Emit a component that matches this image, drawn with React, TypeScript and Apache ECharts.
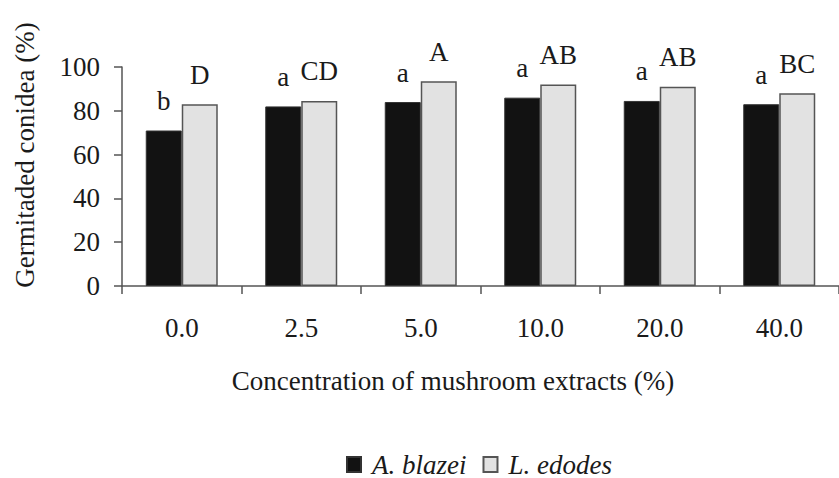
import React, { useEffect, useRef } from "react";
import * as echarts from "echarts";

const categories = ["0.0", "2.5", "5.0", "10.0", "20.0", "40.0"];
const blazeiValues = [71, 82, 84, 86, 84.5, 83];
const edodesValues = [83, 84.5, 93.5, 92, 91, 88];
const blazeiLetters = ["b", "a", "a", "a", "a", "a"];
const edodesLetters = ["D", "CD", "A", "AB", "AB", "BC"];
const yTicks = { min: 0, max: 100, interval: 20 };
const seriesNames = ["A. blazei", "L. edodes"];
const xTitle = "Concentration of mushroom extracts (%)";
const yTitle = "Germitaded conidea (%)";

const FONT = "Liberation Serif";
const TXT = "#1a1a1a";
const FS = 27;

export default function App() {
  const ref = useRef<HTMLDivElement>(null);
  useEffect(() => {
    document.body.style.margin = "0";
    const chart = echarts.init(ref.current!, null, { renderer: "svg" });
    const labelStyle = (letters: string[]) => ({
      show: true,
      position: "top",
      distance: 16,
      fontFamily: FONT,
      fontSize: FS,
      color: TXT,
      formatter: (p: any) => letters[p.dataIndex],
    });
    chart.setOption({
      animation: false,
      backgroundColor: "#ffffff",
      grid: { left: 122, top: 67, width: 726, height: 219 },
      legend: {
        data: seriesNames,
        left: 341,
        top: 446,
        itemWidth: 14,
        itemHeight: 15,
        itemGap: 16,
        icon: "rect",
        textStyle: {
          fontFamily: FONT,
          fontSize: FS,
          lineHeight: FS,
          fontStyle: "italic",
          color: TXT,
          padding: [0, 0, 0, 6],
        },
      },
      xAxis: {
        type: "category",
        data: categories,
        axisLine: { lineStyle: { color: "#555", width: 1.5 } },
        axisTick: { show: true, length: 8, alignWithLabel: false, lineStyle: { color: "#555", width: 1.5 } },
        axisLabel: { margin: 28, fontFamily: FONT, fontSize: FS, color: TXT },
        splitLine: { show: false },
      },
      yAxis: {
        type: "value",
        min: yTicks.min,
        max: yTicks.max,
        interval: yTicks.interval,
        axisLine: { show: true, lineStyle: { color: "#555", width: 1.5 } },
        axisTick: { show: true, length: 8, lineStyle: { color: "#555", width: 1.5 } },
        axisLabel: { margin: 22, fontFamily: FONT, fontSize: FS, color: TXT },
        splitLine: { show: false },
      },
      series: [
        {
          name: seriesNames[0],
          type: "bar",
          data: blazeiValues,
          barWidth: 36,
          barGap: "0%",
          itemStyle: { color: "#121212", borderColor: "#333", borderWidth: 1 },
          label: labelStyle(blazeiLetters),
        },
        {
          name: seriesNames[1],
          type: "bar",
          data: edodesValues,
          barWidth: 36,
          barGap: "0%",
          itemStyle: { color: "#e2e2e2", borderColor: "#555", borderWidth: 1.5 },
          label: labelStyle(edodesLetters),
        },
      ],
      graphic: [
        {
          type: "text",
          x: 453,
          y: 381,
          style: {
            text: xTitle,
            fontFamily: FONT,
            fontSize: FS,
            fill: TXT,
            align: "center",
            verticalAlign: "middle",
          },
        },
        {
          type: "text",
          x: 25,
          y: 155,
          rotation: Math.PI / 2,
          style: {
            text: yTitle,
            fontFamily: FONT,
            fontSize: FS,
            fill: TXT,
            align: "center",
            verticalAlign: "middle",
          },
        },
      ],
    });
    return () => chart.dispose();
  }, []);
  return <div ref={ref} style={{ width: 839, height: 478 }} />;
}
